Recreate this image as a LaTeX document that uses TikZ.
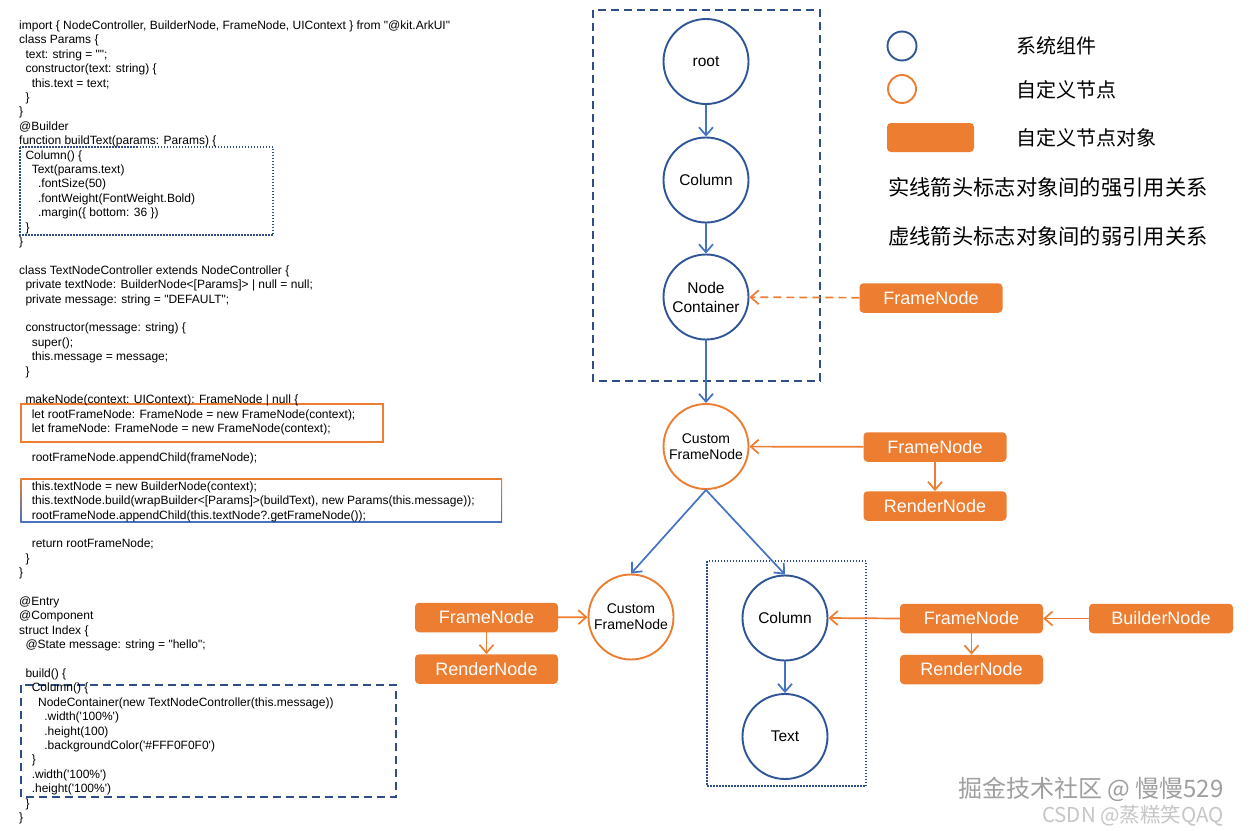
\documentclass[tikz,border=0pt]{standalone}
\usepackage{fontspec}
\setmainfont{Liberation Sans}
\newfontfamily\cjk{Noto Sans CJK SC}
\usetikzlibrary{arrows.meta}
\definecolor{dblue}{HTML}{2F5597}
\definecolor{lblue}{HTML}{4472C4}
\definecolor{orng}{HTML}{ED7D31}
\definecolor{boxblue}{HTML}{2F4D87}
\newcommand\cl[3]{\node[code] (c#1) at ({19+#2*6.3}, {29.5+#1*14.4}) {#3};}
\begin{document}
\begin{tikzpicture}[x=1pt,y=-1pt,
  code/.style={font=\fontsize{12}{14.4}\selectfont, anchor=base west, inner sep=0pt},
  sys/.style={circle, draw=dblue, line width=1.9pt, minimum size=85pt, inner sep=0pt, align=center, font=\fontsize{15.5}{19}\selectfont},
  cust/.style={circle, draw=orng, line width=1.9pt, minimum size=85pt, inner sep=0pt, align=center, font=\fontsize{14}{15.5}\selectfont},
  obj/.style={rectangle, rounded corners=4pt, fill=orng, text=white, minimum width=143pt, minimum height=29.5pt, inner sep=0pt, font=\fontsize{18}{20}\selectfont},
  barr/.style={draw=lblue, line width=1.7pt, -{Straight Barb[length=8pt,width=14pt]}},
  oarr/.style={draw=orng, line width=1.7pt, -{Straight Barb[length=8pt,width=14pt]}},
  dashbox/.style={draw=boxblue, line width=1.6pt, dash pattern=on 8pt off 5pt},
  dotbox/.style={draw=boxblue, line width=1.5pt, dash pattern=on 1.5pt off 1.5pt},
  leg/.style={font=\cjk\fontsize{20}{22}\selectfont, anchor=west, inner sep=0pt},
  leg2/.style={font=\cjk\fontsize{21.3}{23}\selectfont, anchor=west, inner sep=0pt}
]
\fill[white] (0,0) rectangle (1258,830);
\useasboundingbox (0,0) rectangle (1258,830);

% ---- code highlight boxes ----
\draw[dotbox] (20,147) rectangle (273,235);
\draw[draw=orng, line width=1.6pt] (21,404) rectangle (383,442);
\shade[top color=orng, bottom color=lblue] (20.3,478) rectangle (502.2,522.5);
\fill[white] (21.8,479.5) rectangle (500.7,521);
\draw[dashbox] (20.7,685) rectangle (396,797);

% ---- code ----
\cl{0}{0}{import \{ NodeController, BuilderNode, FrameNode, UIContext \} from \textquotedbl @kit.ArkUI\textquotedbl}
\cl{1}{0}{class Params \{}
\cl{2}{1}{text: string = \textquotedbl\textquotedbl;}
\cl{3}{1}{constructor(text: string) \{}
\cl{4}{2}{this.text = text;}
\cl{5}{1}{\}}
\cl{6}{0}{\}}
\cl{7}{0}{@Builder}
\cl{8}{0}{function buildText(params: Params) \{}
\cl{9}{1}{Column() \{}
\cl{10}{2}{Text(params.text)}
\cl{11}{3}{.fontSize(50)}
\cl{12}{3}{.fontWeight(FontWeight.Bold)}
\cl{13}{3}{.margin(\{ bottom: 36 \})}
\cl{14}{1}{\}}
\cl{15}{0}{\}}
\cl{17}{0}{class TextNodeController extends NodeController \{}
\cl{18}{1}{private textNode: BuilderNode<[Params]> | null = null;}
\cl{19}{1}{private message: string = \textquotedbl DEFAULT\textquotedbl;}
\cl{21}{1}{constructor(message: string) \{}
\cl{22}{2}{super();}
\cl{23}{2}{this.message = message;}
\cl{24}{1}{\}}
\cl{26}{1}{makeNode(context: UIContext): FrameNode | null \{}
\cl{27}{2}{let rootFrameNode: FrameNode = new FrameNode(context);}
\cl{28}{2}{let frameNode: FrameNode = new FrameNode(context);}
\cl{30}{2}{rootFrameNode.appendChild(frameNode);}
\cl{32}{2}{this.textNode = new BuilderNode(context);}
\cl{33}{2}{this.textNode.build(wrapBuilder<[Params]>(buildText), new Params(this.message));}
\cl{34}{2}{rootFrameNode.appendChild(this.textNode?.getFrameNode());}
\cl{36}{2}{return rootFrameNode;}
\cl{37}{1}{\}}
\cl{38}{0}{\}}
\cl{40}{0}{@Entry}
\cl{41}{0}{@Component}
\cl{42}{0}{struct Index \{}
\cl{43}{1}{@State message: string = \textquotedbl hello\textquotedbl;}
\cl{45}{1}{build() \{}
\cl{46}{2}{Column() \{}
\cl{47}{3}{NodeContainer(new TextNodeController(this.message))}
\cl{48}{4}{.width(\textquotesingle 100\%\textquotesingle)}
\cl{49}{4}{.height(100)}
\cl{50}{4}{.backgroundColor(\textquotesingle\#FFF0F0F0\textquotesingle)}
\cl{51}{2}{\}}
\cl{52}{2}{.width(\textquotesingle 100\%\textquotesingle)}
\cl{53}{2}{.height(\textquotesingle 100\%\textquotesingle)}
\cl{54}{1}{\}}
\cl{55}{0}{\}}

% ---- diagram boxes ----
\draw[dashbox] (592.7,10) rectangle (820,380.7);
\draw[dotbox] (707,561) rectangle (866,786);

% ---- nodes ----
\node[sys] (root) at (706,61.5) {root};
\node[sys] (col1) at (706,180) {Column};
\node[sys] (nc) at (706,297) {Node\\Container};
\node[cust] (cfn) at (706,446.5) {Custom\\FrameNode};
\node[obj] (fn1) at (931,298) {FrameNode};
\node[obj] (fn2) at (935,447) {FrameNode};
\node[obj] (rn2) at (935,506) {RenderNode};
\node[cust, font=\fontsize{14}{16}\selectfont] (lcfn) at (631,617) {Custom\\FrameNode};
\node[obj] (fn3) at (486.5,617.5) {FrameNode};
\node[obj] (rn3) at (486.5,669) {RenderNode};
\node[sys] (col2) at (785,618) {Column};
\node[sys] (txt) at (785,736.5) {Text};
\node[obj] (fn4) at (971.5,618.5) {FrameNode};
\node[obj, minimum width=144pt] (bn) at (1161,618.5) {BuilderNode};
\node[obj] (rn4) at (971.5,669.5) {RenderNode};

% ---- connectors ----
\draw[barr] (root) -- (col1);
\draw[barr] (col1) -- (nc);
\draw[barr] (nc) -- (cfn);
\draw[oarr, dash pattern=on 8pt off 5pt] (fn1) -- (nc);
\draw[oarr] (fn2) -- (cfn);
\draw[oarr] (fn2) -- (rn2);
\draw[barr] (cfn.south) -- (lcfn.north);
\draw[barr] (cfn.south) -- (col2.north);
\draw[barr] (col2) -- (txt);
\draw[oarr] (fn3) -- (lcfn);
\draw[oarr] (fn3) -- (rn3);
\draw[oarr] (fn4.west) -- (col2.east);
\draw[oarr] (bn) -- (fn4);
\draw[oarr] (fn4) -- (rn4);

% ---- legend ----
\node[circle, draw=dblue, line width=1.9pt, minimum size=29pt, inner sep=0pt] (lg1) at (902,46) {};
\node[circle, draw=orng, line width=1.9pt, minimum size=28pt, inner sep=0pt] (lg2) at (902,89) {};
\node[rectangle, rounded corners=4pt, fill=orng, minimum width=87pt, minimum height=29pt, inner sep=0pt] (lg3) at (930.5,137.5) {};
\node[leg] (lt1) at (1016,46) {系统组件};
\node[leg] (lt2) at (1016,90) {自定义节点};
\node[leg] (lt3) at (1016,138) {自定义节点对象};
\node[leg2] (lt4) at (888,187) {实线箭头标志对象间的强引用关系};
\node[leg2] (lt5) at (888,236) {虚线箭头标志对象间的弱引用关系};

% ---- watermark ----
\node[font=\cjk\fontsize{24}{26}\selectfont, text=gray!75, anchor=west, inner sep=0pt] (wm1) at (958,789) {掘金技术社区 @ 慢慢529};
\node[font=\cjk\fontsize{20.5}{22}\selectfont, text=gray!45, anchor=west, inner sep=0pt] (wm2) at (1042,815.5) {CSDN @蒸糕笑QAQ};
\end{tikzpicture}
\end{document}
